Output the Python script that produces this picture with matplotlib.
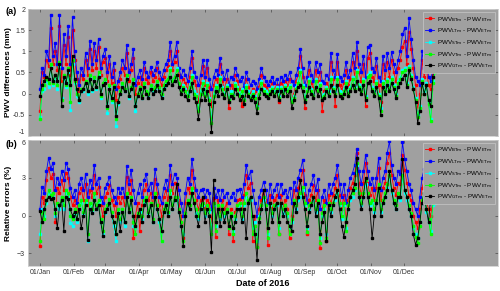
#!/usr/bin/env python3
"""PWV differences and relative errors of the Tm models against ETm, 2016."""

import numpy as np
import matplotlib
matplotlib.use("Agg")
import matplotlib.pyplot as plt
import matplotlib.dates as mdates
from matplotlib.ticker import FuncFormatter

plt.rcParams["font.family"] = ["Liberation Sans", "DejaVu Sans"]

# sampling every second day of 2016 (day-of-year offsets)
day_offsets = list(range(0, 365, 2))
series_names = ["BTm", "LTm", "STm", "VTm", "GTm"]
series_colors = ["#ff0000", "#0000ff", "#00ffff", "#00ff00", "#000000"]

# ---- (a) PWV differences (mm) ----
pwv_btm = [
    -0.40, 0.50, 0.40, 0.80, 0.65, 1.55, 0.70, 1.00, 0.55, 1.60,
    0.30, 1.15, 0.70, 1.35, 0.45, 1.50, 0.80, 0.35, 0.05, 0.45,
    0.35, 0.80, 0.45, 1.05, 0.55, 1.00, 0.60, 1.10, 0.45, 0.75,
    0.85, 0.30, 0.70, 0.25, 0.55, -0.15, 0.15, 0.35, 0.60, 0.45,
    0.95, 0.30, 0.55, 0.85, 0.00, 0.25, 0.40, 0.20, 0.60, 0.35,
    0.25, 0.50, 0.30, 0.40, 0.60, 0.35, 0.20, 0.40, 0.55, 0.65,
    1.00, 0.55, 0.75, 1.00, 0.45, 0.20, 0.35, 0.25, 0.10, 0.40,
    0.85, 0.30, 0.20, -0.20, 0.25, 0.65, 0.20, 0.60, 0.15, -0.30,
    0.20, 0.35, 0.25, 0.70, 0.30, 0.10, 0.35, -0.35, 0.20, 0.10,
    0.45, 0.30, 0.10, -0.30, -0.05, 0.35, 0.15, 0.00, 0.10, 0.05,
    -0.25, 0.15, 0.45, 0.20, 0.15, 0.05, 0.15, 0.25, 0.10, 0.20,
    -0.20, 0.25, 0.15, 0.30, 0.20, 0.35, -0.10, 0.00, 0.30, 0.45,
    0.90, 0.40, -0.35, 0.20, 0.55, 0.25, 0.10, 0.55, 0.30, 0.50,
    -0.40, 0.05, 0.25, 0.15, 0.75, 0.35, -0.30, 0.75, 0.20, 0.10,
    0.25, 0.55, 0.20, 0.35, 0.75, 0.40, 1.00, 0.50, 0.30, 0.70,
    -0.30, 0.85, 0.95, 0.40, 0.30, 0.65, 0.20, -0.20, 0.70, 0.35,
    0.75, 0.40, 0.80, 0.50, 0.30, 0.60, 0.80, 1.10, 1.25, 0.70,
    1.45, 1.05, 0.60, 0.20, -0.40, 0.00, 0.80, 0.40, 0.60, 0.20,
    0.10, 0.50, 0.65,
]
pwv_ltm = [
    0.10, 0.60, 0.45, 1.00, 0.80, 1.87, 0.90, 1.20, 0.70, 1.87,
    0.60, 1.40, 0.90, 1.60, 0.70, 1.80, 1.00, 0.50, 0.20, 0.60,
    0.45, 0.95, 0.60, 1.25, 0.70, 1.20, 0.80, 1.30, 0.60, 0.90,
    1.05, 0.50, 0.90, 0.40, 0.72, 0.10, 0.30, 0.50, 0.80, 0.60,
    1.15, 0.50, 0.70, 1.05, 0.20, 0.40, 0.55, 0.35, 0.75, 0.50,
    0.40, 0.63, 0.45, 0.55, 0.75, 0.50, 0.35, 0.55, 0.70, 0.80,
    1.22, 0.70, 0.90, 1.22, 0.60, 0.40, 0.55, 0.45, 0.30, 0.60,
    1.00, 0.50, 0.40, 0.20, 0.45, 0.80, 0.40, 0.80, 0.35, 0.10,
    0.40, 0.55, 0.45, 0.85, 0.50, 0.35, 0.55, 0.20, 0.40, 0.35,
    0.60, 0.45, 0.30, 0.40, 0.15, 0.50, 0.35, 0.20, 0.30, 0.25,
    0.10, 0.35, 0.60, 0.40, 0.30, 0.20, 0.30, 0.40, 0.25, 0.35,
    0.10, 0.40, 0.30, 0.45, 0.35, 0.50, 0.30, 0.20, 0.45, 0.60,
    1.05, 0.60, 0.20, 0.40, 0.74, 0.45, 0.30, 0.75, 0.50, 0.70,
    0.30, 0.25, 0.45, 0.35, 0.97, 0.55, 0.40, 0.93, 0.40, 0.30,
    0.45, 0.75, 0.40, 0.55, 0.95, 0.60, 1.22, 0.70, 0.50, 0.90,
    0.40, 1.10, 1.15, 0.60, 0.50, 0.85, 0.40, 0.30, 0.90, 0.55,
    0.95, 0.60, 0.98, 0.70, 0.50, 0.80, 1.00, 1.40, 1.55, 0.90,
    1.78, 1.30, 0.80, 0.40, 0.30, 0.20, 1.00, 0.60, 0.80, 0.40,
    0.30, 0.60, 0.75,
]
pwv_stm = [
    -0.55, 0.05, 0.10, 0.30, 0.15, 0.65, 0.20, 0.40, 0.10, 0.65,
    -0.10, 0.35, 0.15, 0.50, -0.38, 0.70, 0.25, -0.05, -0.20, 0.05,
    0.05, 0.25, 0.00, 0.40, 0.05, 0.35, 0.10, 0.45, -0.10, 0.20,
    0.30, -0.45, 0.15, -0.20, 0.15, -0.77, -0.25, 0.00, 0.20, 0.05,
    0.40, -0.10, 0.10, 0.30, -0.41, -0.05, 0.10, -0.10, 0.20, 0.05,
    -0.05, 0.15, 0.05, 0.10, 0.25, 0.10, -0.05, 0.15, 0.25, 0.35,
    0.60, 0.30, 0.40, 0.60, 0.25, 0.10, 0.20, 0.10, 0.00, 0.20,
    0.45, 0.05, 0.00, -0.35, 0.05, 0.30, 0.00, 0.25, -0.10, -0.60,
    0.00, 0.20, 0.10, 0.40, 0.15, 0.00, 0.20, -0.10, 0.05, 0.00,
    0.25, 0.15, 0.00, 0.10, -0.10, 0.20, 0.05, -0.05, 0.05, -0.05,
    -0.30, 0.05, 0.30, 0.10, 0.05, 0.00, 0.10, 0.15, 0.05, 0.15,
    -0.05, 0.15, 0.05, 0.20, 0.10, 0.20, -0.15, -0.05, 0.15, 0.30,
    0.55, 0.20, -0.10, 0.10, 0.35, 0.10, 0.00, 0.35, 0.10, 0.25,
    -0.05, 0.00, 0.15, 0.05, 0.40, 0.15, 0.05, 0.40, 0.05, 0.00,
    0.10, 0.30, 0.05, 0.15, 0.40, 0.15, 0.55, 0.20, 0.10, 0.35,
    -0.05, 0.45, 0.50, 0.15, 0.05, 0.30, 0.00, -0.35, 0.30, 0.10,
    0.35, 0.15, 0.40, 0.20, 0.00, 0.30, 0.40, 0.55, 0.60, 0.25,
    0.65, 0.45, 0.15, -0.10, -0.50, -0.30, 0.35, 0.05, 0.25, -0.20,
    -0.60, 0.30, 0.55,
]
pwv_vtm = [
    -0.60, 0.10, 0.20, 0.35, 0.25, 0.70, 0.25, 0.45, 0.20, 0.75,
    -0.15, 0.45, 0.20, 0.60, -0.20, 0.80, 0.30, 0.00, -0.15, 0.10,
    0.10, 0.30, 0.05, 0.45, 0.10, 0.40, 0.15, 0.50, -0.05, 0.25,
    0.35, -0.35, 0.20, -0.15, 0.20, -0.60, -0.20, 0.05, 0.25, 0.10,
    0.45, -0.05, 0.15, 0.35, -0.30, 0.00, 0.15, -0.05, 0.25, 0.05,
    0.00, 0.20, 0.10, 0.15, 0.30, 0.15, 0.00, 0.20, 0.30, 0.35,
    0.55, 0.30, 0.40, 0.55, 0.25, 0.05, 0.15, 0.05, -0.05, 0.15,
    0.40, 0.00, -0.05, -0.40, 0.00, 0.25, -0.05, 0.20, -0.15, -0.70,
    -0.05, 0.15, 0.05, 0.35, 0.10, -0.05, 0.15, -0.15, 0.00, -0.05,
    0.20, 0.10, -0.05, 0.05, -0.15, 0.15, 0.00, -0.10, 0.00, -0.10,
    -0.35, 0.00, 0.25, 0.05, 0.00, -0.05, 0.05, 0.10, 0.00, 0.10,
    -0.10, 0.10, 0.00, 0.15, 0.05, 0.15, -0.20, -0.10, 0.10, 0.25,
    0.50, 0.15, -0.15, 0.05, 0.30, 0.05, -0.05, 0.30, 0.05, 0.20,
    -0.10, -0.05, 0.10, 0.00, 0.35, 0.10, 0.00, 0.35, 0.00, -0.05,
    0.05, 0.25, 0.00, 0.10, 0.35, 0.10, 0.50, 0.15, 0.05, 0.30,
    -0.10, 0.40, 0.45, 0.10, 0.00, 0.25, -0.05, -0.40, 0.25, 0.05,
    0.30, 0.10, 0.35, 0.15, -0.05, 0.25, 0.35, 0.50, 0.55, 0.20,
    0.60, 0.40, 0.10, -0.15, -0.55, -0.35, 0.30, 0.00, 0.20, -0.25,
    -0.65, 0.25, 0.50,
]
pwv_gtm = [
    -0.05, 0.20, 0.30, 0.40, 0.35, 0.60, 0.30, 0.45, 0.30, 0.70,
    -0.30, 0.40, 0.25, 0.55, 0.20, 0.90, 0.35, 0.10, -0.15, 0.05,
    0.10, 0.25, 0.05, 0.35, 0.10, 0.30, 0.15, 0.40, 0.00, 0.20,
    0.25, -0.30, 0.10, -0.10, 0.15, -0.52, -0.20, 0.00, 0.15, 0.05,
    0.35, -0.05, 0.10, 0.25, -0.30, -0.05, 0.10, -0.10, 0.15, 0.00,
    -0.10, 0.10, 0.00, 0.05, 0.20, 0.05, -0.10, 0.10, 0.20, 0.25,
    0.40, 0.20, 0.30, 0.45, 0.15, 0.00, 0.10, -0.05, -0.15, 0.05,
    0.25, -0.10, -0.20, -0.60, -0.15, 0.10, -0.15, 0.05, -0.25, -0.90,
    -0.20, 0.05, -0.05, 0.20, 0.00, -0.10, 0.10, -0.20, -0.05, -0.10,
    0.10, 0.00, -0.15, -0.05, -0.25, 0.05, -0.05, -0.15, -0.05, -0.20,
    -0.46, -0.10, 0.10, 0.00, -0.05, -0.10, 0.00, 0.05, -0.05, 0.05,
    -0.15, 0.05, -0.05, 0.10, -0.05, 0.05, -0.35, -0.15, 0.05, 0.15,
    0.20, 0.05, -0.20, -0.05, 0.15, 0.00, -0.10, 0.15, -0.05, 0.10,
    -0.15, -0.10, 0.05, -0.05, 0.20, 0.05, -0.05, 0.20, -0.05, -0.10,
    0.00, 0.15, -0.05, 0.05, 0.20, 0.05, 0.30, 0.10, 0.00, 0.20,
    -0.15, 0.25, 0.30, 0.05, -0.05, 0.15, -0.10, -0.50, 0.15, 0.00,
    0.20, 0.05, 0.25, 0.10, -0.10, 0.15, 0.25, 0.35, 0.45, 0.15,
    0.55, 0.35, 0.10, -0.20, -0.70, -0.40, 0.25, 0.00, 0.20, -0.15,
    -0.30, 0.40, 0.70,
]

# ---- (b) relative errors (%) ----
rel_btm = [
    -2.4, 1.5, 1.0, 2.8, 3.8, 3.0, 3.3, -0.5, 2.2, 1.8,
    2.8, 2.0, 3.4, 3.0, 1.5, 0.8, 1.2, 0.3, 1.8, 2.2,
    1.2, 2.5, 0.8, 2.0, 1.5, 3.2, 1.8, 2.3, 0.8, 0.0,
    1.5, 1.8, 2.4, 1.2, 0.8, 0.0, 1.5, 1.0, 1.5, 0.8,
    3.1, 1.8, 2.8, -1.8, 0.0, 1.0, -1.2, 0.8, 2.0, 2.5,
    1.2, 1.8, 0.8, 2.9, 1.8, 0.8, 0.0, 1.5, 2.0, 1.2,
    3.2, 1.8, 2.6, 2.3, 1.2, 0.0, -1.8, 1.0, 2.2, 1.8,
    3.6, 2.2, 1.2, 0.5, 1.2, 1.4, 0.5, 1.2, 1.0, -0.5,
    1.4, -1.7, 1.2, 0.3, 1.2, 0.5, 1.0, -1.5, 0.5, -2.0,
    0.3, 1.2, 1.3, 0.5, 1.6, 3.2, 2.2, 2.6, -2.0, 0.0,
    -2.5, 0.5, 1.2, 2.0, 1.2, -2.3, 1.6, 0.5, 1.2, 1.6,
    -1.5, 1.6, 0.8, 1.2, 0.5, -1.8, 0.0, 2.0, 1.2, 2.2,
    2.8, 3.6, 1.6, -1.5, 1.2, 1.6, 2.4, 1.2, 2.0, -2.6,
    0.5, 1.2, -2.0, 1.6, 1.0, 1.6, 2.2, 3.2, 1.6, 0.5,
    1.6, -0.5, 1.2, 2.2, 2.6, 3.2, 5.0, 2.6, 1.6, 2.6,
    4.2, 2.6, 1.6, 2.2, 1.2, 2.2, 3.8, 1.2, 2.2, 2.6,
    4.2, 5.0, 3.2, 2.2, 1.6, 2.6, 2.5, 4.8, 3.6, 2.6,
    1.6, 1.2, 0.0, -0.5, -1.0, 0.5, 2.2, 2.8, 1.2, 0.5,
    0.0, 1.2, 1.8,
]
rel_ltm = [
    0.5, 2.3, 1.8, 3.5, 4.6, 3.7, 4.2, 2.0, 3.0, 2.5,
    3.5, 2.8, 4.2, 3.7, 2.2, 1.5, 2.0, 1.0, 2.5, 3.0,
    2.0, 3.3, 1.5, 2.8, 2.2, 4.0, 2.5, 3.0, 1.5, 1.0,
    2.2, 2.5, 3.1, 2.0, 1.5, 1.0, 2.2, 1.8, 2.2, 1.5,
    3.9, 2.5, 3.6, 2.0, 1.0, 1.8, 2.5, 1.5, 2.8, 3.3,
    2.0, 2.6, 1.5, 3.7, 2.5, 1.5, 1.0, 2.2, 2.8, 2.0,
    4.0, 2.5, 3.3, 3.0, 2.0, 1.0, 0.0, 1.8, 3.0, 2.5,
    4.5, 3.0, 2.0, 1.5, 2.0, 2.1, 1.5, 2.0, 1.8, 0.5,
    2.2, 1.5, 2.0, 1.2, 2.0, 1.5, 1.8, 1.0, 1.5, 1.8,
    1.2, 2.0, 2.1, 1.5, 2.5, 4.0, 3.0, 3.5, 2.0, 1.0,
    0.0, 1.5, 2.0, 2.7, 2.0, 1.0, 2.5, 1.5, 2.0, 2.5,
    1.5, 2.5, 1.8, 2.0, 1.5, 2.2, 1.0, 2.7, 2.0, 3.0,
    3.6, 4.4, 2.5, 1.0, 2.0, 2.5, 3.2, 2.0, 2.9, 0.5,
    1.5, 2.0, 1.0, 2.5, 1.8, 2.5, 3.0, 4.0, 2.5, 1.5,
    2.5, 1.0, 2.0, 3.0, 3.4, 4.0, 5.3, 3.5, 2.5, 3.5,
    4.8, 3.5, 2.5, 3.0, 2.0, 3.0, 4.6, 2.0, 3.0, 3.5,
    5.0, 5.9, 4.0, 3.0, 2.5, 3.5, 3.3, 5.8, 4.5, 3.5,
    2.5, 2.0, 1.0, 0.5, 0.0, 1.5, 3.0, 3.7, 2.0, 1.5,
    1.0, 2.0, 2.5,
]
rel_stm = [
    -1.5, 0.5, 0.0, 1.0, 1.8, 1.4, 1.5, 0.0, 0.8, 0.5,
    1.2, 0.5, 1.8, 1.5, -0.6, -0.8, 0.2, -0.5, 0.5, 1.0,
    0.2, 1.0, -2.0, 0.8, 0.3, 1.5, 0.5, 1.0, -0.5, -1.5,
    0.2, 0.5, 1.0, 0.0, -0.8, -2.0, 0.3, -0.5, 0.3, -0.8,
    1.5, 0.3, 1.2, -0.8, -1.0, 0.0, 0.3, -0.3, 1.0, 1.2,
    0.2, 0.8, -0.5, 1.5, 0.5, -0.5, -2.0, 0.3, 0.8, 0.2,
    1.8, 0.5, 1.2, 1.2, 0.3, -0.8, -1.5, 0.0, 1.0, 0.5,
    2.0, 1.0, 0.2, -0.3, 0.5, 0.8, 0.0, 0.5, 0.3, -1.0,
    0.8, -0.8, 0.5, -0.3, 0.5, 0.0, 0.3, -0.8, 0.0, -1.2,
    -0.3, 0.5, 0.8, -0.3, 0.8, 1.5, 1.0, 1.2, -1.0, -0.5,
    -2.0, 0.0, 0.5, 1.2, 0.5, -1.5, 0.8, 0.0, 0.5, 0.8,
    -1.0, 0.8, 0.2, 0.5, 0.0, -1.0, -0.5, 1.0, 0.5, 1.2,
    1.5, 2.0, 0.8, -1.0, 0.5, 0.8, 1.2, 0.3, 1.0, -1.8,
    0.0, 0.5, -1.5, 0.8, 0.3, 0.8, 1.2, 1.8, 0.8, -0.3,
    0.8, -1.0, 0.5, 1.2, 1.5, 2.0, 4.0, 1.5, 0.8, 1.5,
    2.5, 1.5, 0.8, 1.0, 0.3, 1.0, 2.2, 0.3, 1.0, 1.5,
    2.2, 3.0, 1.8, 1.0, 0.5, 1.5, 1.2, 3.0, 1.8, 1.2,
    0.5, 0.0, -1.0, -1.5, -1.8, -0.5, 1.0, 1.5, 0.3, -0.5,
    -1.2, 0.8, 1.0,
]
rel_vtm = [
    -2.0, 0.3, -0.3, 1.2, 2.0, 1.6, 1.8, 0.2, 1.0, 0.8,
    1.5, 0.8, 2.0, 1.8, 0.0, -0.3, 0.5, -0.3, 0.8, 1.2,
    0.3, 1.2, -1.5, 1.0, 0.5, 1.8, 0.8, 1.2, -0.3, -1.2,
    0.5, 0.8, 1.3, 0.3, -0.5, -1.5, 0.5, -0.3, 0.5, -0.5,
    1.8, 0.5, 1.5, -0.5, -1.5, 0.2, 0.0, 0.0, 1.2, 1.5,
    0.3, 1.0, -0.3, 1.8, 0.8, -0.3, -2.0, 0.5, 1.0, 0.3,
    2.0, 0.8, 1.5, 1.5, 0.5, -0.5, -2.0, 0.2, 1.2, 0.8,
    2.2, 1.2, 0.5, 0.0, 0.8, 1.0, 0.2, 0.8, 0.5, -1.5,
    1.0, -1.2, 0.8, 0.0, 0.8, 0.2, 0.5, -1.0, 0.2, -1.5,
    0.0, 0.8, 1.0, 0.0, 1.0, 1.8, 1.2, 1.5, -1.5, -0.8,
    -2.5, -0.2, 0.8, 1.5, 0.8, -1.8, 1.0, 0.2, 0.8, 1.0,
    -1.5, 1.0, 0.5, 0.8, 0.2, -1.5, -0.3, 1.2, 0.8, 1.5,
    1.8, 2.3, 1.0, -1.3, 0.8, 1.0, 1.5, 0.5, 1.2, -2.2,
    0.2, 0.8, -1.8, 1.0, 0.5, 1.0, 1.5, 2.0, 1.0, 0.0,
    1.0, -1.2, 0.8, 1.5, 1.8, 2.2, 4.2, 1.8, 1.0, 1.8,
    2.8, 1.8, 1.0, 1.2, 0.5, 1.2, 2.5, 0.5, 1.2, 1.8,
    2.5, 3.2, 2.0, 1.2, 0.8, 1.8, 1.5, 3.2, 2.0, 1.5,
    0.8, 0.2, -0.8, -1.7, -2.2, -0.8, 1.2, 1.8, 0.5, -0.3,
    -1.5, 1.0, 1.2,
]
rel_gtm = [
    0.4, -0.5, 0.5, 1.2, 1.5, 1.3, 1.4, 0.5, -1.0, 0.8,
    1.2, -1.2, 1.5, 1.3, 0.5, 0.0, 0.3, -0.3, 0.5, -1.0,
    0.0, 0.8, -1.9, 0.5, 0.2, 1.2, 0.5, 0.8, -0.5, -1.6,
    0.3, 0.5, 1.0, 0.0, -0.5, -1.5, 0.2, -1.2, 0.3, -0.5,
    1.5, 0.3, 1.2, 0.0, -0.8, 0.0, 0.5, -0.5, 0.8, 1.2,
    0.0, 0.8, -0.5, 1.5, 0.5, -0.3, -1.2, 0.3, 0.8, 0.0,
    1.5, 0.5, 1.2, 2.5, 0.3, -0.8, -2.4, 0.0, 1.0, 0.5,
    1.8, 1.0, 0.0, -0.8, 0.5, 1.5, -0.5, 0.5, 0.0, -2.9,
    2.8, -0.5, 0.5, -0.8, 0.5, -0.5, 0.3, -0.8, 0.0, -1.0,
    -0.5, 0.5, 0.5, -0.5, 0.5, -1.8, 1.0, 1.5, 0.0, -1.5,
    -3.5, -0.5, 0.5, 2.0, 0.5, -1.0, 1.0, -0.5, 0.5, 1.0,
    -0.5, 1.0, 0.0, 0.5, -0.5, -0.8, -1.2, 1.0, 0.3, 1.5,
    2.8, 1.5, 0.5, -0.8, 0.3, 0.8, 1.5, 0.0, 1.0, -1.5,
    -0.5, 0.3, -2.0, 0.8, 0.0, 0.8, 1.5, 2.0, 0.5, -0.8,
    -1.7, -0.5, 0.5, 1.5, 2.0, 2.5, 4.6, 1.5, 0.5, 1.5,
    3.0, 1.5, 0.5, -1.8, 0.0, 1.0, 2.2, 0.0, 1.0, 1.5,
    2.0, 3.5, 2.0, 1.0, 0.5, 1.5, 1.5, 4.5, 2.0, 1.5,
    0.5, 0.0, -1.5, -2.3, -1.8, -0.5, 1.0, 1.8, 0.5, -0.5,
    1.5, 2.5, 2.0,
]

top_series = [pwv_btm, pwv_ltm, pwv_stm, pwv_vtm, pwv_gtm]
bottom_series = [rel_btm, rel_ltm, rel_stm, rel_vtm, rel_gtm]


def trim_zero(x, pos=None):
    return f"{x:g}"


def main() -> None:
    dates = np.datetime64("2016-01-01") + np.array(day_offsets).astype("timedelta64[D]")
    dates = dates.astype("datetime64[ms]").astype(object)
    month_ticks = np.arange("2016-01", "2017-01", dtype="datetime64[M]").astype("datetime64[ms]").astype(object)

    fig = plt.figure(figsize=(5.0, 2.91), dpi=100)
    ax_a = fig.add_axes([0.056, 0.533, 0.940, 0.436])
    ax_b = fig.add_axes([0.056, 0.086, 0.940, 0.433])

    bg = "#a0a0a0"
    for ax, data in ((ax_a, top_series), (ax_b, bottom_series)):
        ax.set_facecolor(bg)
        for name, col, vals in zip(series_names, series_colors, data):
            ax.plot(dates, vals, "-", color=col, lw=0.6, marker="s", ms=1.6,
                    mec=col, mfc=col,
                    label=rf"PWV$_{{\mathrm{{{name}}}}}$ - PWV$_{{\mathrm{{ETm}}}}$")
        ax.set_xlim(np.datetime64("2015-12-21"), np.datetime64("2017-02-26"))
        ax.set_xticks(month_ticks)
        ax.xaxis.set_major_formatter(mdates.DateFormatter("%d/%b"))
        ax.tick_params(direction="in", length=2, width=0.4, labelsize=5,
                       colors="#333333", top=True, right=True, pad=2)
        for sp in ax.spines.values():
            sp.set_color("#d0d0d0")
            sp.set_linewidth(0.6)
        leg = ax.legend(loc="upper right", fontsize=4.5, frameon=True,
                        facecolor=bg, edgecolor="#c8c8c8", framealpha=1,
                        fancybox=False, handlelength=1.4, handletextpad=0.4,
                        labelspacing=0.45, borderpad=0.4,
                        bbox_to_anchor=(1.0, 1.0))
        leg.get_frame().set_linewidth(0.5)

    ax_a.set_ylim(-1, 2)
    ax_a.set_yticks([-1, -0.5, 0, 0.5, 1, 1.5, 2])
    ax_a.yaxis.set_major_formatter(FuncFormatter(trim_zero))
    ax_a.tick_params(labelbottom=False)
    ax_a.set_ylabel("PWV differences (mm)", fontsize=6, fontweight="bold", labelpad=1)

    ax_b.set_ylim(-4, 6)
    ax_b.set_yticks([-3, 0, 3, 6])
    ax_b.set_ylabel("Relative errors (%)", fontsize=6, fontweight="bold", labelpad=4)
    ax_b.set_xlabel("Date of 2016", fontsize=6.5, fontweight="bold", labelpad=2)

    fig.text(0.012, 0.962, "(a)", fontsize=6.5, fontweight="bold", va="center")
    fig.text(0.012, 0.505, "(b)", fontsize=6.5, fontweight="bold", va="center")

    # the two panels touch: keep the edge labels apart
    fig.canvas.draw()
    ax_a.get_yticklabels()[0].set_va("bottom")
    ax_b.get_yticklabels()[-1].set_va("top")

    fig.savefig("out.png", dpi=100, facecolor="white")
    plt.close(fig)


if __name__ == "__main__":
    main()
